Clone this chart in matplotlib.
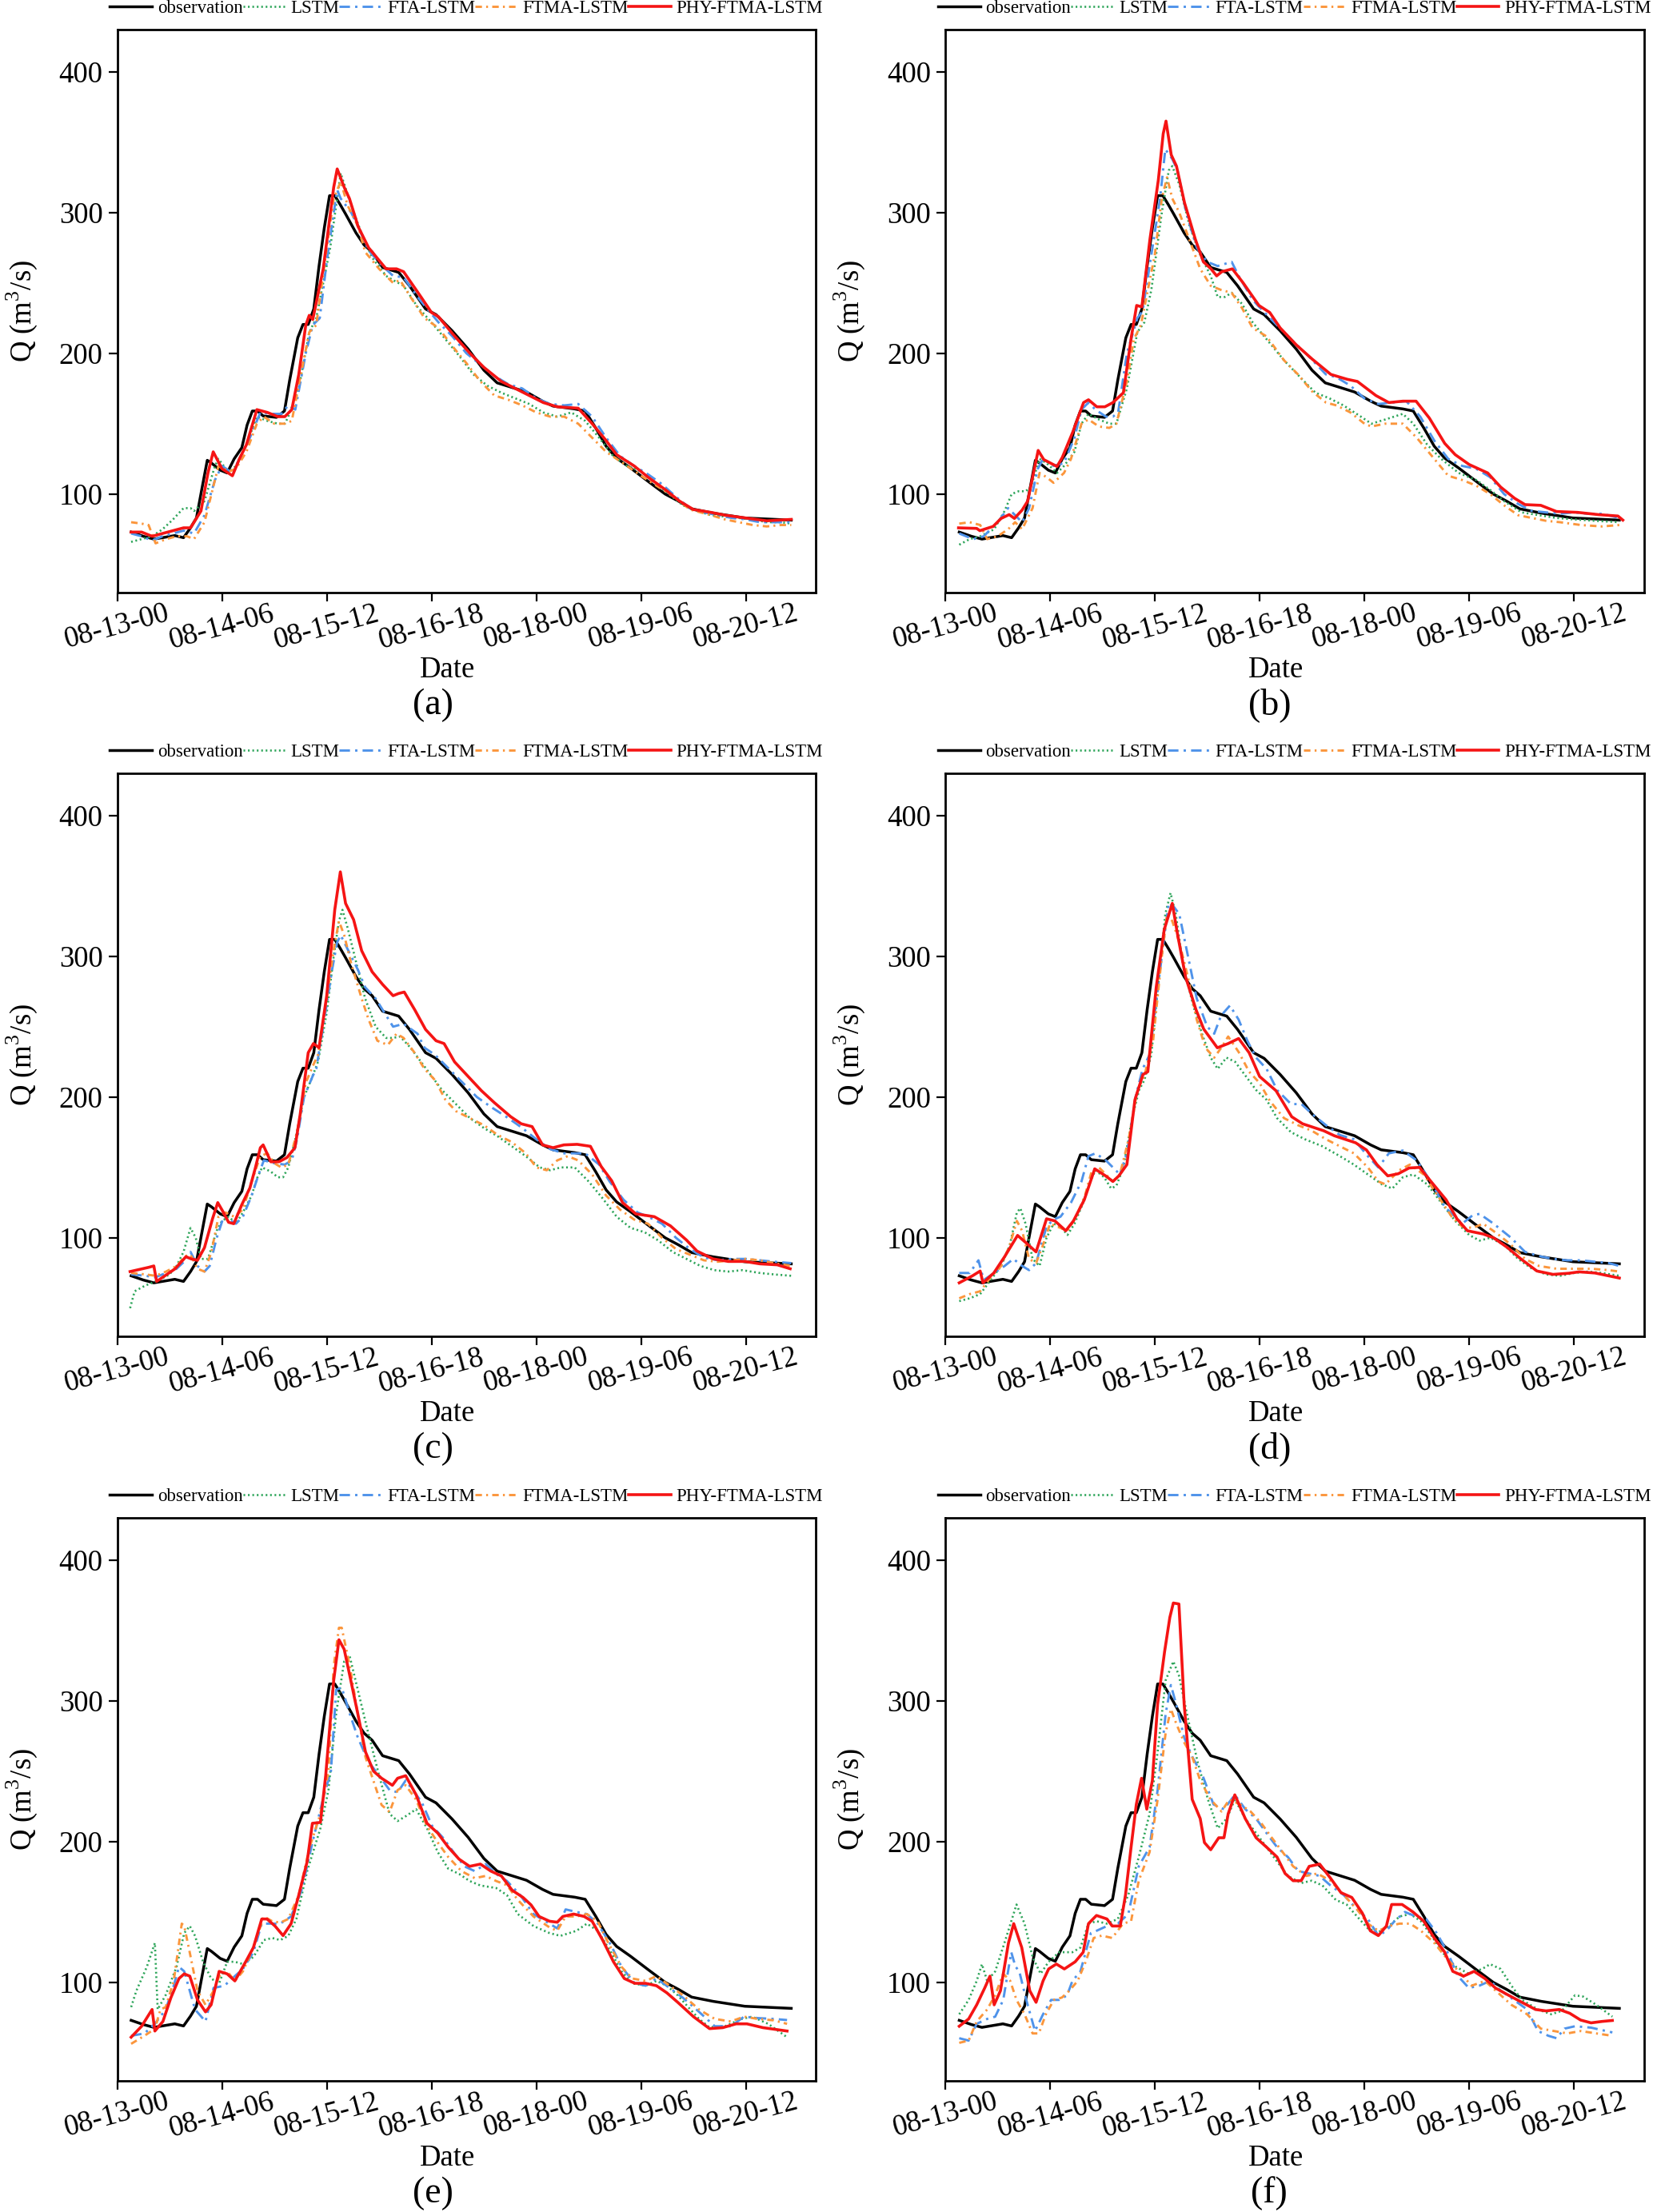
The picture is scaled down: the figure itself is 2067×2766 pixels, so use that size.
import matplotlib
matplotlib.use("Agg")
import matplotlib.pyplot as plt

plt.rcParams['font.family'] = ['Liberation Serif', 'DejaVu Serif']
plt.rcParams['mathtext.fontset'] = 'custom'
plt.rcParams['mathtext.rm'] = 'Liberation Serif'

# ---------------- data (hours since 08-13-00, discharge m3/s) ----------------
tick_hours = [0, 30, 60, 90, 120, 150, 180]
tick_labels = ['08-13-00', '08-14-06', '08-15-12', '08-16-18', '08-18-00', '08-19-06', '08-20-12']
series_names = ['observation', 'LSTM', 'FTA-LSTM', 'FTMA-LSTM', 'PHY-FTMA-LSTM']
panel_labels = ['(a)', '(b)', '(c)', '(d)', '(e)', '(f)']

obs_h = [4, 7.5, 10.5, 16.5, 19, 21, 22.7, 24.2, 25.8, 27, 29.5, 31.5, 33.5, 35.7, 37.2, 38.7, 40.2, 41.8,
         45.6, 47.9, 49.4, 51.7, 53.2, 54.7, 56.3, 57.8, 59.3, 60.8, 62.3, 63.9, 65.4, 68.4, 70.7, 73, 76,
         80.6, 83.7, 88.3, 91.3, 95.9, 100.5, 105, 108.8, 112.7, 117.2, 121.8, 124.8, 131, 134, 137, 140,
         143, 147, 152.3, 156.9, 160.7, 164.5, 170.6, 179.7, 193]
obs_q = [73, 70, 68, 70.5, 69, 76, 83, 103, 124, 122, 117, 115, 125, 133, 149, 159, 159, 155.5,
         154.5, 159, 181, 211, 220.5, 220.5, 231.5, 262, 289, 312, 312, 305.5, 299, 285.5, 277, 272, 261,
         257.5, 248, 231.5, 227.5, 216, 203, 188, 179, 176, 172.5, 166, 162.5, 160.5, 159, 147, 134,
         125.5, 118.5, 108.5, 100, 95, 89.5, 86.5, 83, 81.5]

# panel (a)
a_lstm = [(4,66),(7,68),(10,70),(13,75),(16,82),(19,90),(21,90),(22,88),(25,95),(28,120),(29,125),(32,115),(34,120),(37,135),(40,155),(43,152),(46,150),(48,150),(49,155),(52,175),(55,215),(57,225),(61,275),(64,328),(67,305),(70,285),(73,268),(77,255),(79,252),(82,248),(86,233),(90,222),(94,210),(98,198),(102,185),(106,177),(110,172),(114,168),(118,164),(122,158),(126,155),(130,158),(134,152),(138,140),(142,127),(146,120),(150,116),(154,108),(158,100),(162,92),(166,88),(170,85),(174,84),(178,83),(182,82),(186,80),(190,80),(193,79)]
a_fta = [(4,72),(7,70),(10,67),(13,70),(16,72),(19,74),(22,72),(25,85),(28,110),(30,120),(33,115),(35,125),(38,140),(41,158),(44,157),(47,157),(49,163),(51,160),(54,200),(56,220),(58,225),(60,265),(62,300),(63,316),(64,310),(67,300),(69,290),(72,273),(76,262),(79,255),(82,254),(86,240),(90,228),(92,222),(96,212),(100,200),(104,192),(108,184),(112,178),(116,175),(120,168),(124,164),(128,163),(132,164),(136,155),(140,140),(144,127),(148,120),(152,114),(156,107),(160,98),(164,90),(168,87),(172,85),(176,83),(180,82),(184,80),(188,80),(193,80)]
a_ftma = [(4,80),(7,79),(9,78),(11,65),(14,68),(17,70),(20,70),(22,68),(25,80),(27,100),(29,120),(32,116),(34,118),(37,130),(40,150),(42,155),(45,150),(48,150),(50,152),(53,190),(55,215),(57,220),(60,275),(62,310),(64,322),(66,305),(69,290),(71,272),(75,260),(79,250),(81,252),(84,240),(88,225),(92,218),(96,205),(100,193),(104,180),(108,170),(112,167),(116,163),(120,158),(124,155),(128,155),(132,150),(136,140),(140,130),(146,120),(150,113),(155,105),(160,97),(164,89),(170,85),(174,82),(178,80),(182,78),(186,77),(190,78),(193,78)]
a_phy = [(4,73),(7,73),(10,70),(13,72),(16,74),(19,76),(21,76),(24,88),(26,115),(27.5,130),(30,118),(33,113),(35,125),(37,135),(40,160),(43,158),(46,155),(48,155),(50,160),(52,185),(54,220),(55,227),(56,224),(59,260),(62,318),(63,331),(65,318),(66.5,310),(69,290),(72,275),(77,260),(80,260),(82,258),(87,240),(90,229),(92,226),(96,214),(101,200),(105,190),(110,180),(114,175),(118,170),(122,165),(126,162),(132,161),(136,150),(140,138),(143,128),(148,120),(152,112),(157,103),(161,95),(165,89),(170,87),(174,85),(180,83),(186,81),(193,82)]

# panel (b)
b_lstm = [(4,64),(7,68),(10,70),(14,75),(17,88),(19,100),(21,102),(23,102),(24.5,105),(27,125),(29,122),(32,115),(34,120),(37,130),(39,150),(41,157),(44,153),(47,150),(49,150),(52,175),(55,215),(57,222),(59,245),(62,300),(64,330),(65,333),(67,320),(70,290),(73,270),(76,255),(78,240),(80,240),(82,243),(85,235),(88,222),(92,210),(97,195),(102,182),(106,172),(110,168),(114,163),(119,155),(122,150),(126,153),(131,157),(134,150),(138,135),(142,125),(147,115),(152,110),(156,103),(160,95),(165,87),(170,85),(175,83),(180,82),(186,81),(193,80)]
b_fta = [(4,72),(8,68),(11,70),(15,80),(18,90),(20,85),(22,80),(24,90),(26.5,118),(28,125),(31,120),(34,122),(37,140),(39,160),(41,165),(43,160),(46,155),(48,155),(49.5,158),(52,200),(55,225),(56.5,230),(59,270),(61.5,310),(63,345),(65,338),(66.5,330),(69,300),(72,275),(75,265),(78,262),(82,265),(84,255),(88,238),(91,230),(95,220),(99,210),(104,198),(109,185),(112,183),(116,177),(120,168),(124,164),(128,165),(132,166),(136,155),(140,138),(144,125),(148,120),(152,118),(156,112),(160,100),(164,93),(168,88),(172,87),(176,86),(180,87),(184,86),(188,86),(193,83)]
b_ftma = [(4,79),(7,80),(10,78),(12,68),(15,70),(18,75),(20,80),(22,75),(25,90),(27,115),(29,112),(31,108),(34,115),(36,125),(39,150),(41,153),(44,148),(47,147),(49,150),(52,180),(54,210),(56,220),(60,270),(62,310),(63.5,325),(65,310),(67,300),(70,280),(73,260),(76,248),(79,245),(82,243),(85,232),(88,218),(92,212),(97,195),(101,185),(105,173),(109,165),(112,163),(116,158),(120,150),(122,148),(126,150),(131,150),(135,140),(140,125),(144,113),(148,110),(152,106),(156,100),(160,92),(164,85),(168,83),(172,81),(176,80),(182,78),(188,77),(193,78)]
b_phy = [(3.8,76),(9,75.6),(9.9,74),(13.7,77),(16,82.7),(18.3,85.4),(19.8,82.7),(22,88.6),(23.6,95),(26.6,131),(28.2,124.5),(32,119.6),(33.5,126),(36.5,144),(39.6,165),(41,167),(43.4,162),(45.7,162),(48,165),(51,172),(53.3,212),(54.8,234),(56.3,233),(58.6,281),(61,323),(62.4,356),(63.2,365),(64.7,341),(66.2,333),(68.5,307),(71.6,281),(73.9,265),(76.1,260),(77.7,255),(79.2,258),(82.2,260),(85.3,250),(89.8,234),(92.9,229),(95.9,218),(100.5,206),(105,196),(110.4,185),(115,181.6),(118,180),(123.3,170),(127,165),(131,166),(134.8,166),(138.6,154),(143,136),(146,128),(150,121),(155.3,115),(159,105),(163,97),(166,92.5),(170.5,92),(175,87.6),(181,87),(187,85.4),(192.6,84.4),(194,81.5)]

# panel (c)
c_lstm = [(3.7,50),(5,62),(8,66),(12,70),(15,74),(17,80),(19,90),(21,107),(22.5,100),(24,85),(26,85),(28.5,105),(30,112),(32,115),(34,110),(36,118),(38.5,130),(40,142),(41.5,150),(44,147),(46,143),(47.5,143),(49,150),(51,170),(53.5,200),(55.5,212),(57.5,225),(60,260),(62,300),(63.5,325),(64.5,333),(66,320),(68,300),(71,270),(74,250),(77,242),(79,242),(81,243),(84,235),(87,225),(90,215),(93,205),(97,195),(101,185),(105,178),(109,172),(113,165),(117,158),(121,150),(124,148),(127,150),(131,150),(135,140),(139,128),(143,115),(147,107),(151,104),(155,98),(159,90),(163,85),(167,80),(171,77),(175,76),(179,77),(184,75),(188,74),(193,73)]
c_fta = [(4,74),(8,73),(11,72),(14,75),(17,78),(20,85),(21,90),(23,80),(25,76),(26.5,80),(28.5,100),(30.5,115),(32,113),(34,110),(36,115),(38.5,130),(40.5,145),(42,155),(45,153),(48,152),(50,155),(51.5,170),(53.5,200),(56,215),(57,220),(59,250),(61.5,290),(63,310),(64,315),(66,305),(69,290),(71,278),(74,270),(77,258),(79,250),(82,252),(86,245),(88,235),(91,230),(95,220),(99,210),(103,200),(107,193),(112,185),(116,178),(120,170),(124,163),(128,160),(134,160),(138,152),(141,140),(145,127),(149,118),(152,115),(156,110),(160,100),(164,92),(168,86),(172,84),(176,85),(180,85),(184,84),(188,83),(193,82)]
c_ftma = [(4,75),(8,74),(11,73),(14,76),(17,80),(19.5,87),(21,88),(23,78),(25,76),(27,90),(29,115),(31,118),(33.5,115),(36,120),(38.5,140),(41,158),(43,160),(45,153),(47,150),(49,152),(51.5,175),(54,210),(56,222),(57.5,230),(60,270),(62,305),(63.5,325),(65,315),(67,295),(70,270),(72,255),(74.5,240),(77.5,237),(80,245),(82,242),(85,232),(88,220),(91,212),(94,198),(97,190),(101,185),(105,180),(109,173),(113,168),(117,160),(120,150),(123,148),(126,155),(129,158),(132,155),(136,145),(140,130),(144,120),(148,113),(152,110),(156,100),(160,92),(164,88),(168,84),(172,83),(176,84),(180,85),(184,84),(188,82),(193,80)]
c_phy = [(3.7,76),(9,79),(10.5,80),(11.3,69),(16.6,78),(19.7,86.6),(21.2,85),(23,84),(25,93),(27.3,113.5),(28.8,125),(30.3,118.6),(31.9,111),(33.4,110),(35.7,123.6),(38,135.4),(39.5,149),(41,164),(41.8,166),(44,154),(46.3,154),(48.6,157),(50.9,164),(52.4,187.7),(54.7,231.5),(56.2,238),(57.8,235),(60,272),(62.3,333),(63.9,360),(65.4,337.6),(67.7,326),(70,304),(73,289),(76,280),(79,272),(80.6,273.6),(82.2,274.6),(85.2,262),(88.3,248),(91.3,240),(93.6,238),(96.6,225),(100.5,214.6),(104.3,204.5),(108,196),(112.7,186),(115.7,181),(118.8,179),(121.8,166),(124.8,164),(127.9,166),(131.7,166.4),(135.5,165),(138.6,150.6),(141.6,140.5),(144.7,125),(148.5,117),(153.8,115),(158.4,108.5),(163,98.4),(166,90.6),(170.6,85),(175,83.2),(179.7,83.2),(184,81.5),(189,80.8),(192.7,78)]

# panel (d)
d_lstm = [(4,55),(7,57),(10,60),(13,70),(16,80),(18.5,95),(20.5,118),(21.5,121),(23,110),(25,85),(27,80),(29,100),(31,110),(33,108),(35,102),(37,110),(39.5,125),(41.5,140),(43,148),(45.5,143),(47.5,135),(49,137),(51,150),(53.5,185),(55.5,205),(57,212),(59,230),(61,280),(63,330),(64.5,345),(66,330),(68,295),(71,265),(73.5,245),(76,228),(78,220),(80.5,228),(83,225),(86,215),(89,205),(92,198),(95,185),(99,175),(103,170),(108,165),(113,158),(117,152),(121,145),(125,138),(128,135),(131,143),(134,145),(138,138),(142,125),(146,112),(150,102),(153,98),(156,100),(160,95),(164,85),(168,78),(172,74),(176,73),(180,75),(184,76),(188,75),(193,73)]
d_fta = [(4,75),(7,75),(9.5,84),(11,70),(14,75),(17,80),(19.5,85),(22,80),(24,77),(26,82),(29,108),(31,113),(33,115),(36,125),(39,140),(41,158),(43,160),(46,155),(48,150),(50,145),(52,160),(54.5,200),(56.5,220),(58.5,230),(60.5,270),(62.5,310),(64,338),(65.5,335),(67,330),(69.5,300),(72,270),(75,250),(77,245),(79,258),(81.5,265),(84,255),(86.5,240),(89,228),(92,220),(95,205),(99,195),(102,195),(105,188),(109,180),(113,173),(117,170),(121,158),(124,150),(127,160),(131,162),(135,155),(139,140),(143,122),(146,115),(148,110),(151,116),(153,117),(157,110),(162,100),(166,90),(170,87),(174,85),(178,84),(182,84),(186,83),(190,82),(193,80)]
d_ftma = [(4,57),(7,60),(10,62),(13,72),(16,80),(18.5,95),(20.5,112),(22,105),(24,85),(26,82),(28,95),(30,110),(33,107),(35,105),(37.5,115),(40,130),(42,148),(44,150),(46,145),(48,140),(50,145),(52.5,170),(55,205),(57,215),(59.5,240),(62,300),(63.5,330),(65,325),(67,310),(69.5,285),(72,255),(74.5,235),(77,228),(79,235),(81,243),(84,232),(87,218),(90,210),(93,197),(97,185),(101,180),(105,176),(109,170),(113,165),(117,160),(121,150),(124,140),(126,138),(130,148),(133,152),(137,145),(141,130),(145,115),(148,108),(151,107),(154,110),(158,103),(162,95),(166,85),(170,80),(175,78),(180,78),(185,78),(190,77),(193,76)]
d_phy = [(4,68),(7.8,73),(10,76.4),(10.8,68),(13.9,75),(17,86.6),(20.7,101.7),(23,96.7),(26,90),(29,113.5),(31.4,112),(34.5,105),(36.7,112),(39.8,127),(42.8,149),(45.9,144),(48,140),(49.7,144),(52,152),(54.3,198),(56.6,216),(58,218),(60.4,278),(62.7,319),(65,337.6),(66.5,315.7),(68.8,285.4),(71.8,262),(74,248.3),(77.9,235),(81,238),(84,241.6),(87,231.5),(90,214.6),(94.7,204.5),(99.2,186),(102.3,181),(108.4,176),(111.4,172.5),(117.5,167.5),(120.6,162.4),(123.6,152),(126.7,144),(129.7,145.5),(132.8,149.6),(135.8,150),(138.9,140.5),(143.4,127),(146.5,113.5),(149.5,105),(154,102.7),(157,100),(161,93),(164.8,85),(169.4,76.4),(174,74),(178.5,74.8),(181.5,75.8),(186,75),(193,71.4)]

# panel (e)
e_lstm = [(4,82.4),(5.5,94),(8.5,111),(10.8,128),(11.6,80.7),(13.9,91),(17,111),(19.2,135),(20.8,140),(22.3,133),(24.6,114.6),(26.9,102.7),(29.2,99.3),(31.5,114.6),(33.7,114.6),(36,113),(39,118),(42,130),(44.4,131.5),(46.7,130),(49,133),(51.3,145),(54.4,179),(58.2,209.5),(60.5,236.6),(62.7,291),(65,328),(66.6,331.5),(68.9,307.8),(71.9,277),(75,247),(78,219.7),(80.3,214.6),(82.6,218),(85.6,223),(88.7,209.5),(91.8,192.5),(94.8,180.7),(97.9,177),(100.9,172),(104,168.8),(108.5,167),(111.6,162),(114.7,148.5),(119.2,140),(123.8,135),(126.9,133),(131.5,136.6),(134.5,141.7),(137.6,136.6),(141.4,121.4),(144.4,107.8),(147.5,99.3),(151.3,97.6),(154.4,101),(157.4,97.6),(160.5,90.8),(163.5,82.4),(166.6,74),(169.6,68),(174.2,69),(178.8,74),(181.8,75.6),(186.4,70.5),(191.8,61)]
e_fta = [(4,62),(7.8,63.7),(10.8,70.5),(13.9,80.7),(16.2,97.6),(17.7,111),(19.2,107.8),(22.3,80.7),(25.3,72.2),(27.6,96),(30.7,97.6),(33.7,104.4),(36,109.5),(39,121.4),(41.4,141.7),(43.7,141.7),(46.7,141.7),(49.8,146.8),(52.8,165.4),(55.9,199.3),(58.9,229.8),(61.2,250),(62.7,307.8),(64.3,309.5),(66.6,290.8),(68.9,274),(71.9,257),(75,246.8),(78,236.6),(80.3,235),(82.6,243.4),(87.2,228),(90.2,211),(93.3,202.7),(96.3,192.5),(99.4,182.4),(102.4,179),(105.5,184),(108.5,177),(111.6,172),(115.4,162),(119.2,148.5),(123.8,141.7),(126,138.3),(128.4,151.8),(131.5,150),(134.5,148.5),(137.6,141.7),(141.4,126.4),(144.4,111),(148.2,99.3),(151.3,97.6),(154.4,102.7),(158.2,96),(162,89),(166.6,79),(171.1,68.8),(175.7,68.8),(179.5,75.6),(183.4,74.6),(188,74),(191.8,73.2)]
e_ftma = [(4,56.3),(7.8,62),(10.8,67),(12.4,80.7),(13.9,82.4),(16.2,101),(18.5,141.7),(19.2,140),(20.8,121),(23,94),(25.3,84),(27.6,94),(29.2,104.4),(31.5,107.8),(33.7,101),(36,107.8),(39,124.7),(42,146.8),(44.4,143.4),(46.7,142.4),(49,145),(52,162),(55.1,196),(58.2,219.7),(60.5,250),(62,324.7),(63.5,351.9),(64.3,351.9),(66.6,324.7),(68.9,290.8),(71.1,260),(73.4,243),(75.7,226),(78,221),(80.3,236.6),(82.6,240),(85.6,229.8),(88.7,211),(91.8,199.3),(94.8,189),(98.6,179),(102.4,174),(105.5,175.6),(108.5,172),(111.6,169),(114.7,158.6),(119.2,146.8),(123.8,139),(126,136.6),(128.4,146.8),(131.5,146.8),(134.5,148.5),(137.6,143.4),(140.6,128),(144.4,111),(147.5,102.7),(151.3,101),(154.4,104.4),(158.2,97.6),(162,90.8),(166.6,80.7),(171.1,74),(175.7,72.2),(179.5,75.6),(183.4,74),(188,73),(191.8,70.5)]
e_phy = [(4,61),(7,68.8),(10,80.7),(10.8,65.4),(13.1,72.2),(15.4,89.2),(17.7,102.7),(19.2,106),(20.8,104.4),(23,87.5),(25.3,79),(26.9,84),(29.2,107.8),(31.5,106),(33.7,101),(36.8,114.6),(39,124.7),(41.4,145),(42.9,145),(45.2,140),(47.5,133.2),(49.8,141.7),(52,162),(54.4,185.8),(55.9,213),(58.2,213.6),(59.7,246.8),(62,314.6),(63.5,343.4),(65,336.6),(66.6,318),(68.9,290.8),(71.1,263.7),(73.4,250),(75.7,245),(78.8,240),(80.3,245),(82.6,246.8),(85.6,233.2),(88.7,213),(91.8,206),(94.8,196),(97.9,187.5),(100.9,182.4),(104,184),(107,179),(110,175.6),(113.1,165.4),(116.2,160.3),(118.5,155),(120.8,146.8),(123.8,143.4),(126,142.7),(127.6,146.8),(130.7,148.5),(133.7,146.8),(136,143.4),(139,130),(142.1,114.6),(145.2,102.7),(148.2,99.3),(151.3,99.3),(154.4,97.6),(157.4,92.5),(160.5,85.8),(165,75.6),(169.6,67.1),(173.4,67.8),(177.2,70.5),(180.3,70.5),(184.9,67.8),(191.8,65.4)]

# panel (f)
f_lstm = [(4,77.3),(6.7,87.5),(9,101),(10.5,112.9),(12,101),(14.3,107.8),(17.4,131.5),(20.4,155.3),(22.7,141.7),(25,118),(27.3,106.1),(29.6,114.6),(32.6,121.4),(36.4,121.4),(38.7,124.7),(41,141.7),(43.3,143.4),(46.3,141.7),(49.4,145),(52.4,162),(55.4,189),(58.5,219.7),(60.8,263.7),(63.1,314.6),(65.3,328),(66.9,318),(69.2,290.8),(72.2,257),(75.2,230),(78,209.5),(80.6,216.3),(82.9,230),(85.9,216.3),(89,206),(92,196),(95,185.8),(98.1,175.6),(101.9,170.5),(104.9,172.2),(108,168.8),(111.8,158.6),(114.9,155.3),(117.9,146.8),(121,138.3),(124,135.6),(127,140),(130.1,146.8),(133.1,148.5),(136.2,143.4),(139.2,133.2),(142.3,121.4),(146.1,111.2),(149.9,106.1),(153.7,109.5),(156,112.9),(159,109.5),(162.1,97.6),(165.1,87.5),(169.7,80.7),(173.5,77.3),(176.5,79.7),(180.3,90.8),(182.6,89.9),(186.4,84),(191,75.6)]
f_fta = [(4,60.3),(6.7,58.6),(9,70.5),(12,74),(14.3,75.6),(16.6,87.5),(18.9,121.4),(20.1,111.2),(21.2,107.8),(23.2,87.5),(25.7,65.4),(28,77.3),(30.3,87.5),(32.6,87.5),(34.9,90.8),(36.4,101),(38.7,107.8),(41.7,135),(43.3,136.6),(46.3,140),(49.4,141.7),(52.4,148.5),(55.4,182.4),(58.5,196),(60.8,236.6),(63.1,290.8),(64.6,311.2),(66.1,297.6),(68.4,273.9),(70.7,260.3),(73.7,246.8),(76.8,226.4),(79.8,223),(82.9,233.2),(85.9,223),(89,216.3),(92,206),(95,196),(98.1,189),(101.1,179),(104.2,177.3),(107.2,175.6),(110.3,168.8),(114.1,162),(117.9,151.8),(121,145),(124,133.2),(126.3,136.6),(128.6,143.4),(131.6,150),(134.7,146.8),(137.7,145),(140.7,135),(143.8,121.4),(146.8,104.4),(149.9,96),(152.9,97.6),(156,101),(159,94.2),(162.8,87.5),(166.6,80.7),(169.7,65.4),(172.7,62),(175,60.3),(177.3,67.1),(180.3,68.8),(184.9,67.8),(191,64.4)]
f_ftma = [(4,57),(6.7,58.6),(9,72.2),(12,80.7),(14.3,91),(16.6,106.1),(18.6,101),(20.4,87.5),(22.7,77.3),(25,63.7),(26.8,63.7),(28.8,77.3),(31.1,87.5),(33.4,89.2),(35.6,94.2),(37.9,101),(40.2,114.6),(42.5,131.5),(44.8,133.2),(47.8,131.5),(50.9,141.7),(53.2,143.4),(55.4,172.2),(58.5,192.5),(60.8,229.8),(63.1,277.3),(64.6,294.2),(66.1,284),(68.4,270.5),(70.7,260.3),(73,243.4),(76,229.8),(79.1,221.4),(81.3,229.8),(84.4,226.4),(87.4,221.4),(90.5,213),(93.5,202.7),(96.6,192.5),(99.6,182.4),(103.4,175.6),(106.5,177.3),(110.3,172.2),(114.1,162),(117.9,151.8),(121,141.7),(124,136.6),(127,140),(130.1,141.7),(133.1,141.7),(136.2,136.6),(140,128),(143.8,116.3),(147.6,106.1),(150.7,97.6),(154.5,101),(158.3,92.5),(162.1,84),(166.6,77.3),(170.5,67.1),(174.3,65.4),(178.1,63.7),(181.9,65.4),(186.4,63.7),(191,62)]
f_phy = [(4,68.8),(6.7,74),(9,84),(11.3,96),(12.8,104.4),(14,84),(15.8,94),(18.1,128),(19.6,141.7),(21.9,124.7),(24.2,94),(26,85.8),(28,101),(29.6,109.5),(31.8,113),(34.1,109.5),(37.2,114.6),(39.5,121.4),(41,141.7),(43.3,147.5),(46.3,145),(47.8,140),(50.1,140),(51.6,162),(53.2,196),(54.7,226.4),(56.2,245),(57.7,223),(59.3,243.4),(60.8,297.6),(62.8,335),(64.3,359.3),(65.3,369.5),(66.9,368.8),(68.4,297.6),(70.7,230),(73,216.3),(74.2,199.3),(76,194.2),(78.3,202.7),(79.8,202.7),(81,219.7),(82.9,233.2),(85.9,216.3),(89,202.7),(92,196),(95,189),(97.3,177.3),(99.6,172.2),(101.9,172.2),(104.2,182.4),(107.2,184),(110.3,174),(113.3,163.7),(116.4,160.3),(119.4,149.2),(121.7,136.6),(124,133.2),(126.3,140),(127.8,155.3),(130.8,155.3),(133.9,150),(137,143.4),(140,131.5),(143,121.4),(145.3,107.8),(148.4,104.4),(151.4,107.8),(154.5,102.7),(157.5,96),(161.3,90.8),(165.1,85.8),(169,80.7),(172,79.7),(175.8,80.7),(178.8,78),(181.9,73.2),(184.9,71.2),(188,72.2),(191,72.9)]

panels = [
    (a_lstm, a_fta, a_ftma, a_phy),
    (b_lstm, b_fta, b_ftma, b_phy),
    (c_lstm, c_fta, c_ftma, c_phy),
    (d_lstm, d_fta, d_ftma, d_phy),
    (e_lstm, e_fta, e_ftma, e_phy),
    (f_lstm, f_fta, f_ftma, f_phy),
]

# ---------------- styles ----------------
col_obs = 'black'
col_lstm = '#2ea55a'
col_fta = '#4f93ea'
col_ftma = '#fb963c'
col_phy = '#f51414'
styles = [
    dict(color=col_obs, lw=2.5, ls='-'),
    dict(color=col_lstm, lw=1.9, ls=(0, (0.8, 1.3))),
    dict(color=col_fta, lw=2.1, ls=(0, (4.5, 2.2, 1.0, 2.2))),
    dict(color=col_ftma, lw=2.1, ls=(0, (2.8, 1.8, 0.8, 1.8))),
    dict(color=col_phy, lw=2.6, ls='-'),
]

W, H = 2067, 2766
fig = plt.figure(figsize=(W / 100, H / 100), dpi=100)

col_left = [146.5, 1182]
row_top = [37, 967, 1898]
ax_w, ax_h = 873.5, 704

for i, series in enumerate(panels):
    r, c = divmod(i, 2)
    left = col_left[c] / W
    bottom = 1 - (row_top[r] + ax_h) / H
    ax = fig.add_axes([left, bottom, ax_w / W, ax_h / H])

    handles = []
    ln, = ax.plot(obs_h, obs_q, label=series_names[0], **styles[0])
    handles.append(ln)
    for k, s in enumerate(series):
        xs = [p[0] for p in s]
        ys = [p[1] for p in s]
        ln, = ax.plot(xs, ys, label=series_names[k + 1], **styles[k + 1])
        handles.append(ln)

    ax.set_xlim(0, 200)
    ax.set_ylim(30, 430)
    ax.set_yticks([100, 200, 300, 400])
    ax.set_xticks(tick_hours)
    ax.set_xticklabels(tick_labels, rotation=15, ha='center', va='top')
    ax.tick_params(axis='both', direction='out', length=8, width=1.6, labelsize=26.5,
                   top=False, right=False)
    ax.tick_params(axis='y', pad=5)
    ax.tick_params(axis='x', pad=-1.5)
    for sp in ax.spines.values():
        sp.set_linewidth(2.0)

    ax.text(-0.137, 0.5, 'Q (m$^{3}$/s)', transform=ax.transAxes, rotation=90,
            ha='center', va='center', fontsize=26.5)
    ax.text(0.473, -0.138, 'Date', transform=ax.transAxes, ha='center', va='center',
            fontsize=26.5)
    ax.text(0.452 if c == 0 else 0.464, -0.2, panel_labels[i], transform=ax.transAxes,
            ha='center', va='center', fontsize=33)

    ax.legend(handles=handles, ncol=5, loc='center', bbox_to_anchor=(0.5, 1.037),
              frameon=False, fontsize=16.5, handlelength=2.3, handletextpad=0.3,
              columnspacing=0.0, borderpad=0, borderaxespad=0)

fig.savefig('out.png', dpi=100)
